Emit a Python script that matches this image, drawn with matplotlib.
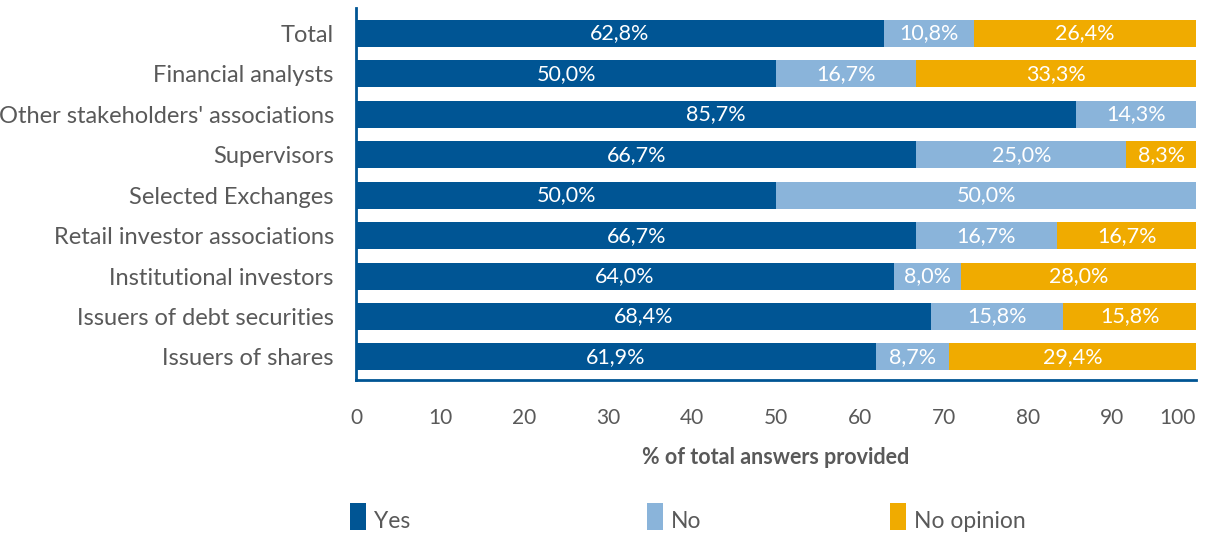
import numpy as np
import matplotlib.pyplot as plt
from matplotlib.patches import Rectangle

plt.rcParams['font.family'] = ['Lato', 'DejaVu Sans']

categories = ['Issuers of shares', 'Issuers of debt securities', 'Institutional investors',
              'Retail investor associations', 'Selected Exchanges', 'Supervisors',
              "Other stakeholders' associations", 'Financial analysts', 'Total']
yes = [61.9, 68.4, 64.0, 66.7, 50.0, 66.7, 85.7, 50.0, 62.8]
no = [8.7, 15.8, 8.0, 16.7, 50.0, 25.0, 14.3, 16.7, 10.8]
no_opinion = [29.4, 15.8, 28.0, 16.7, 0.0, 8.3, 0.0, 33.3, 26.4]
series = ['Yes', 'No', 'No opinion']
colors = ['#005594', '#8AB4DA', '#F0AB00']
ticks = [0, 10, 20, 30, 40, 50, 60, 70, 80, 90, 100]

grey = '#595959'
fig = plt.figure(figsize=(12.09, 5.37), dpi=100)
ax = fig.add_axes([0.2945, 0.2924, 0.6948, 0.6926])

y = np.arange(len(categories))
left = np.zeros(len(categories))
for vals, col in zip([yes, no, no_opinion], colors):
    vals = np.array(vals)
    bars = ax.barh(y, vals, left=left, height=0.67, color=col, linewidth=0)
    for b, v in zip(bars, vals):
        if v > 0:
            ax.text(b.get_x() + b.get_width() / 2, b.get_y() + b.get_height() / 2,
                    f'{v:.1f}%'.replace('.', ','), ha='center', va='center',
                    color='white', fontsize=15.5)
    left += vals

ax.set_xlim(0, 100)
ax.set_ylim(-0.57, 8.63)
ax.set_yticks(y)
ax.set_yticklabels(categories, fontsize=17, color=grey)
ax.set_xticks(ticks)
ax.set_xticklabels([str(t) for t in ticks], fontsize=15, color=grey)
ax.get_xticklabels()[-1].set_ha('right')
ax.tick_params(length=0, pad=16, axis='y')
ax.tick_params(length=0, pad=20, axis='x')
for s in ['top', 'right']:
    ax.spines[s].set_visible(False)
for s in ['left', 'bottom']:
    ax.spines[s].set_color('#005594')
    ax.spines[s].set_linewidth(2)
ax.set_xlabel('% of total answers provided', fontsize=15.5, fontweight='bold',
              color=grey, labelpad=14)

# legend row along the bottom
leg_x = [350, 647, 890]
for lx, name, col in zip(leg_x, series, colors):
    fig.add_artist(Rectangle((lx / 1209, (537 - 530) / 537), 16 / 1209, 27 / 537,
                             transform=fig.transFigure, color=col, linewidth=0))
    fig.text((lx + 24) / 1209, (537 - 521) / 537, name, fontsize=16.5,
             color=grey, ha='left', va='center')

fig.savefig('out.png', dpi=100)
